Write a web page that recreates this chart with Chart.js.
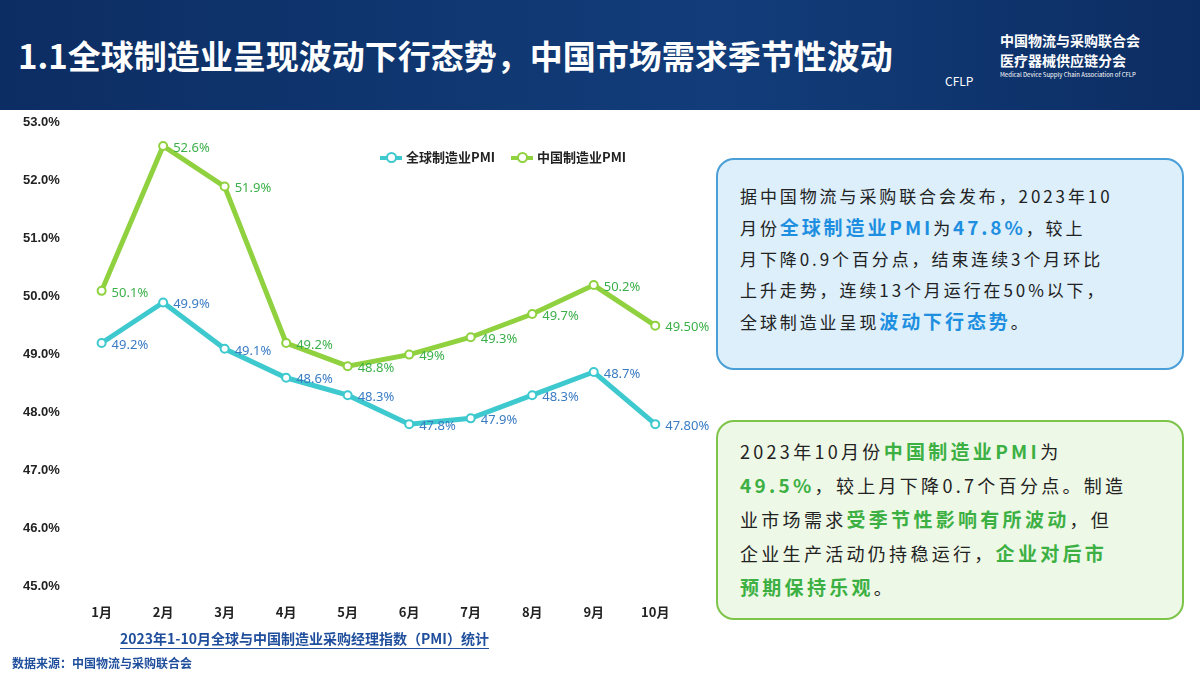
<!DOCTYPE html>
<html><head><meta charset="utf-8">
<script src="https://cdn.jsdelivr.net/npm/chart.js@4"></script>
<style>
body{margin:0;width:1200px;height:676px;background:#fff;font-family:"Noto Sans CJK SC","Noto Sans",sans-serif;position:relative;overflow:hidden}
.head{position:absolute;left:0;top:0;width:1200px;height:110px;background:linear-gradient(90deg,#0c2d63,#123d7a 60%,#0c2d63)}
.head h1{position:absolute;left:18px;top:31px;margin:0;color:#fff;font-size:33px;font-weight:bold}
.logo{position:absolute;left:1000px;top:30px;color:#fff;font-size:14px;line-height:20px;font-weight:bold}
.logo small{display:block;font-size:6px;font-weight:normal;line-height:10px}
.cflp{position:absolute;left:945px;top:72px;color:#fff;font-size:12px}
#wrap{position:absolute;left:0;top:112px;width:712px;height:518px}
.legend{position:absolute;left:380px;top:147px;font-size:13px;font-weight:bold;color:#222}
.legend span{display:inline-block;margin-right:16px}
.legend i{display:inline-block;width:22px;height:4px;vertical-align:middle;margin-right:4px;position:relative}
.legend i:after{content:'';position:absolute;left:6px;top:-4px;width:7px;height:7px;border-radius:50%;background:#fff;border:2px solid currentColor}
.box{position:absolute;left:716px;width:468px;border-radius:18px;font-size:17px;line-height:31px;letter-spacing:2.9px;padding:12px 10px 12px 22px;box-sizing:border-box;color:#222;white-space:nowrap}
.b1{top:158px;height:212px;background:#dceffb;border:2px solid #4a9fd8;padding-top:20px}
.b2{top:420px;height:200px;background:#eef8e6;border:2px solid #7cc44a;padding-top:12px;font-size:18px;line-height:33px;letter-spacing:3.3px}
.bl{color:#1e8fe0;font-weight:bold;font-size:19px}
.gr{color:#3cb043;font-weight:bold;font-size:19px}
.cap{position:absolute;left:120px;top:628px;color:#1f4e9c;font-size:14px;font-weight:bold;border-bottom:1.5px solid #1f4e9c}
.src{position:absolute;left:12px;top:654px;color:#1f4e9c;font-size:12px;font-weight:bold}
</style></head><body>
<div class="head"><h1>1.1全球制造业呈现波动下行态势，中国市场需求季节性波动</h1>
<div class="logo">中国物流与采购联合会<br>医疗器械供应链分会<small>Medical Device Supply Chain Association of CFLP</small></div><div class="cflp">CFLP</div></div>
<div id="wrap"><canvas id="pmi"></canvas></div>
<div class="legend"><span><i style="background:#3ec9cf;color:#3ec9cf"></i>全球制造业PMI</span><span><i style="background:#8fd13f;color:#8fd13f"></i>中国制造业PMI</span></div>
<div class="box b1">据中国物流与采购联合会发布，2023年10<br>月份<span class="bl">全球制造业PMI</span>为<span class="bl">47.8%</span>，较上<br>月下降0.9个百分点，结束连续3个月环比<br>上升走势，连续13个月运行在50%以下，<br>全球制造业呈现<span class="bl">波动下行态势</span>。</div>
<div class="box b2">2023年10月份<span class="gr">中国制造业PMI</span>为<br><span class="gr">49.5%</span>，较上月下降0.7个百分点。制造<br>业市场需求<span class="gr">受季节性影响有所波动</span>，但<br>企业生产活动仍持稳运行，<span class="gr">企业对后市</span><br><span class="gr">预期保持乐观</span>。</div>
<div class="cap">2023年1-10月全球与中国制造业采购经理指数（PMI）统计</div>
<div class="src">数据来源：中国物流与采购联合会</div>
<script>
const months = ['1月','2月','3月','4月','5月','6月','7月','8月','9月','10月'];
const globalPmi = [49.2,49.9,49.1,48.6,48.3,47.8,47.9,48.3,48.7,47.8];
const chinaPmi = [50.1,52.6,51.9,49.2,48.8,49.0,49.3,49.7,50.2,49.5];
const globalLabels = ['49.2%','49.9%','49.1%','48.6%','48.3%','47.8%','47.9%','48.3%','48.7%','47.80%'];
const chinaLabels = ['50.1%','52.6%','51.9%','49.2%','48.8%','49%','49.3%','49.7%','50.2%','49.50%'];

const valueLabels = {
  id: 'valueLabels',
  afterDatasetsDraw(chart) {
    const ctx = chart.ctx;
    ctx.save();
    ctx.font = '13px "Noto Sans"';
    ctx.textBaseline = 'middle';
    chart.data.datasets.forEach((ds, i) => {
      const texts = i == 0 ? globalLabels : chinaLabels;
      ctx.fillStyle = i == 0 ? '#3a7cc4' : '#3cb04a';
      chart.getDatasetMeta(i).data.forEach((pt, j) => {
        ctx.fillText(texts[j], pt.x + 10, pt.y + 2);
      });
    });
    ctx.restore();
  }
};

new Chart(document.querySelector('#pmi'), {
  type: 'line',
  data: {
    labels: months,
    datasets: [{
      label: '全球制造业PMI',
      data: globalPmi,
      borderColor: '#3ec9cf',
      borderWidth: 5,
      pointRadius: 4,
      pointBorderWidth: 2,
      pointBackgroundColor: '#fff',
      pointBorderColor: '#3ec9cf'
    }, {
      label: '中国制造业PMI',
      data: chinaPmi,
      borderColor: '#8fd13f',
      borderWidth: 5,
      pointRadius: 4,
      pointBorderWidth: 2,
      pointBackgroundColor: '#fff',
      pointBorderColor: '#8fd13f'
    }]
  },
  options: {
    responsive: true,
    maintainAspectRatio: false,
    animation: false,
    layout: {padding: {left: 20, right: 26, top: 9, bottom: 0}},
    plugins: {legend: {display: false}, tooltip: {enabled: false}},
    scales: {
      x: {offset: true, grid: {display: false}, border: {display: false},
          ticks: {color: '#222', padding: 10, font: {size: 13, weight: 'bold', family: '"Noto Sans CJK SC"'}}},
      y: {min: 45, max: 53, grid: {display: false}, border: {display: false},
          ticks: {stepSize: 1, color: '#222', font: {size: 13, weight: 'bold'}, callback: v => v.toFixed(1) + '%'}}
    }
  },
  plugins: [valueLabels]
});
</script>
</body></html>
